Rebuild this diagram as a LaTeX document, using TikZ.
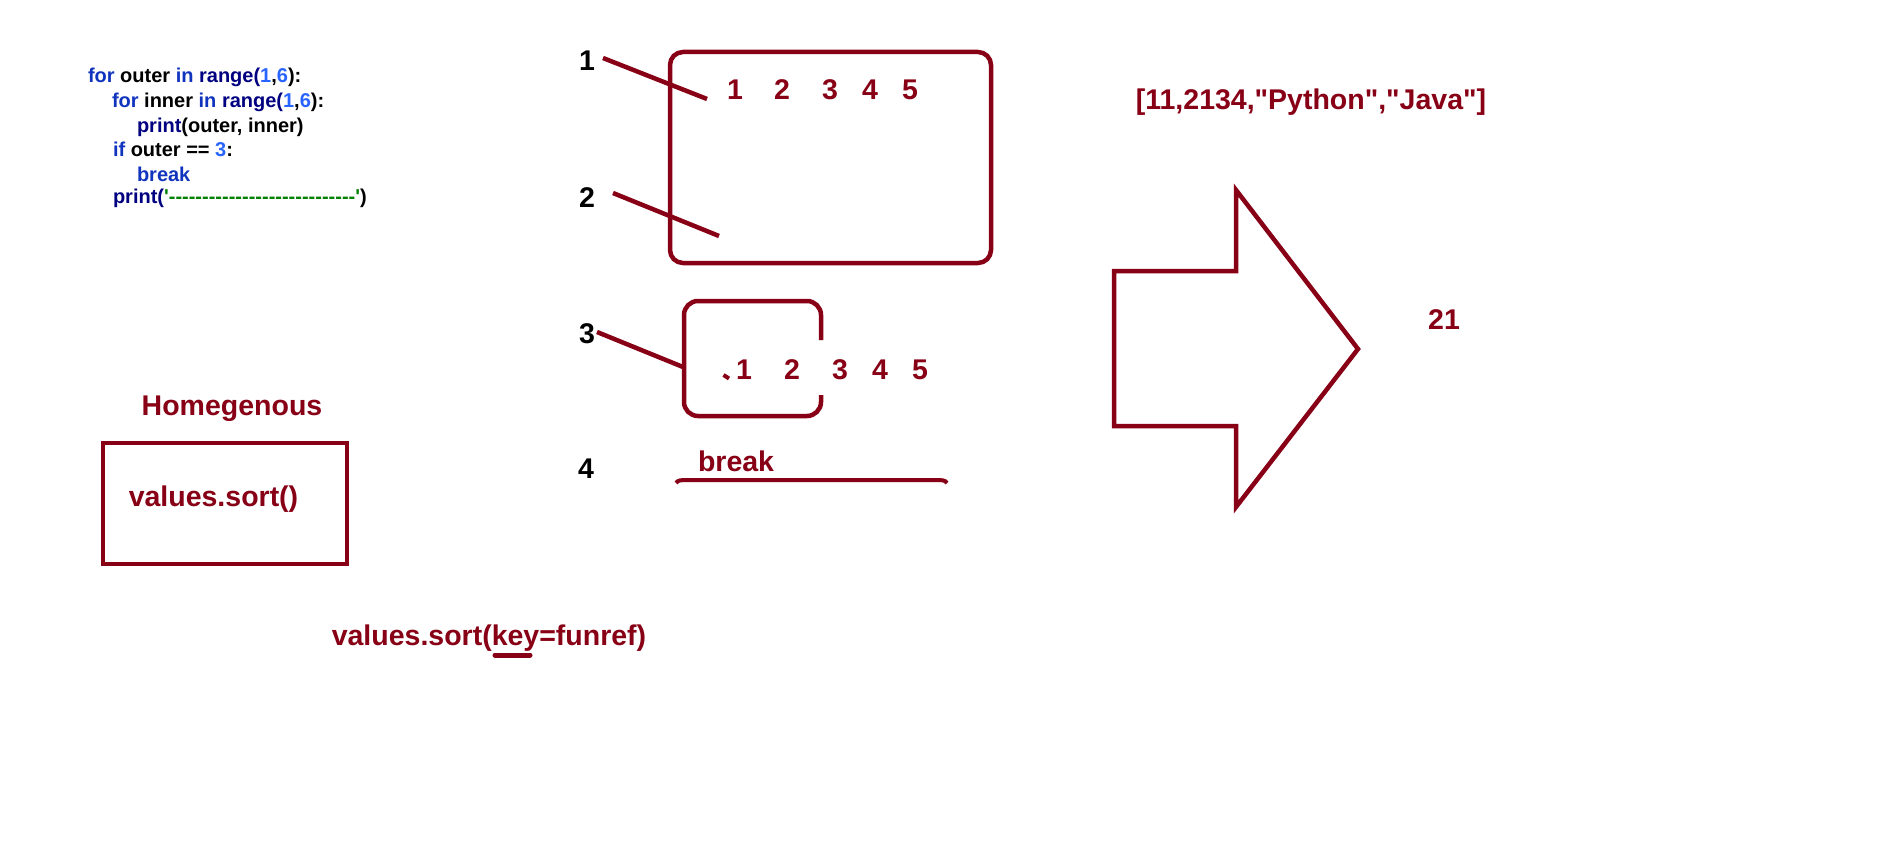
\documentclass[tikz,border=0pt]{standalone}
\usepackage{fontspec}
\setmainfont{Liberation Sans}
\font\lstfont="Liberation Sans/B" at 28.5pt
\definecolor{dr}{RGB}{136,0,21}
\definecolor{kw}{RGB}{16,52,190}
\definecolor{nv}{RGB}{0,0,128}
\definecolor{nb}{RGB}{40,100,255}
\definecolor{st}{RGB}{0,128,0}
\def\hh{-\kern0pt}
\begin{document}
\begin{tikzpicture}[x=1pt,y=-1pt,
  every node/.style={inner sep=0pt,outer sep=0pt},
  lbl/.style={font=\fontsize{28.5}{30}\selectfont\bfseries,text=black,anchor=base},
  rtxt/.style={font=\fontsize{28.5}{30}\selectfont\bfseries,text=dr,anchor=base},
  code/.style={font=\fontsize{20}{22}\selectfont\bfseries,text=black,anchor=base west},
  redline/.style={draw=dr,line width=4.5pt},
  boxline/.style={draw=dr,line width=4.5pt}]
\useasboundingbox[fill=white] (0,0) rectangle (1879,848);

% code block
\node[code] (c1) at (88,83) {\textcolor{kw}{for} outer \textcolor{kw}{in} \textcolor{nv}{range(}\textcolor{nb}{1},\textcolor{nb}{6}):};
\node[code] (c2) at (112,108) {\textcolor{kw}{for} inner \textcolor{kw}{in} \textcolor{nv}{range(}\textcolor{nb}{1},\textcolor{nb}{6}):};
\node[code] (c3) at (137,132) {\textcolor{nv}{print}(outer, inner)};
\node[code] (c4) at (113,157) {\textcolor{kw}{if} outer == \textcolor{nb}{3}:};
\node[code] (c5) at (137,181) {\textcolor{kw}{break}};
\node[code] (c6) at (113,203) {\textcolor{nv}{print(}\textcolor{st}{\textquotesingle\hh\hh\hh\hh\hh\hh\hh\hh\hh\hh\hh\hh\hh\hh\hh\hh\hh\hh\hh\hh\hh\hh\hh\hh\hh\hh\hh\hh\textquotesingle})};

% Homegenous box
\node[rtxt] (homo) at (232,415) {Homegenous};
\node[boxline,minimum width=244pt,minimum height=121pt] (sortbox) at (225,503.5) {};
\node[rtxt] (sort1) at (213.5,506) {values.sort()};
\node[rtxt] (sort2) at (489,645) {values.sort(key=funref)};
\coordinate (ul1) at (495,655);
\coordinate (ul2) at (530,655);
\draw[draw=dr,line width=5pt,line cap=round] (ul1) -- (ul2);

% labels 1-4
\node[lbl] (l1) at (587,71) {1};
\node[lbl] (l2) at (587,207) {2};
\node[lbl] (l3) at (587,343) {3};
\node[lbl] (l4) at (586,478) {4};

% big box
\node[boxline,rounded corners=13pt,minimum width=321pt,minimum height=211pt] (bigbox) at (830.5,157.5) {};
\node[rtxt] (b1) at (735,100) {1};
\node[rtxt] (b2) at (782,100) {2};
\node[rtxt] (b3) at (830,100) {3};
\node[rtxt] (b4) at (870,100) {4};
\node[rtxt] (b5) at (910,100) {5};

\coordinate (p1a) at (603,58);  \coordinate (p1b) at (707,99);
\coordinate (p2a) at (613,193); \coordinate (p2b) at (719,236);
\coordinate (p3a) at (597,332); \coordinate (p3b) at (683,367);
\draw[redline] (p1a) -- (p1b);
\draw[redline] (p2a) -- (p2b);
\draw[redline] (p3a) -- (p3b);

% small box with gap on the right
\coordinate (s1) at (821,340);
\coordinate (s2) at (821,395);
\draw[boxline,rounded corners=14pt] (s1) -- (821,301) -- (684,301) -- (684,416) -- (821,416) -- (s2);
\coordinate (dt1) at (723.5,375);
\coordinate (dt2) at (729,378.5);
\draw[draw=dr,line width=4pt] (dt1) -- (dt2);
\node[rtxt] (r1) at (744,379) {1};
\node[rtxt] (r2) at (792,379) {2};
\node[rtxt] (r3) at (840,379) {3};
\node[rtxt] (r4) at (880,379) {4};
\node[rtxt] (r5) at (920,379) {5};

% break
\node[rtxt,anchor=base west] (brk) at (698,471) {break};
\coordinate (bl1) at (676,483);
\coordinate (bl2) at (947,483);
\draw[draw=dr,line width=4pt] (bl1) .. controls (678,480) and (681,480) .. (688,480) -- (935,480) .. controls (942,480) and (945,480) .. (bl2);

% list text
\node[rtxt,font=\lstfont] (lst) at (1311,110) {[11,2134,"Python","Java"]};

% block arrow
\draw[boxline,line join=miter] (1114,271) -- (1236,271) -- (1236,190) -- (1358,349) -- (1236,507) -- (1236,426) -- (1114,426) -- cycle;
\node[rtxt] (n21) at (1444,329) {21};
\end{tikzpicture}
\end{document}
